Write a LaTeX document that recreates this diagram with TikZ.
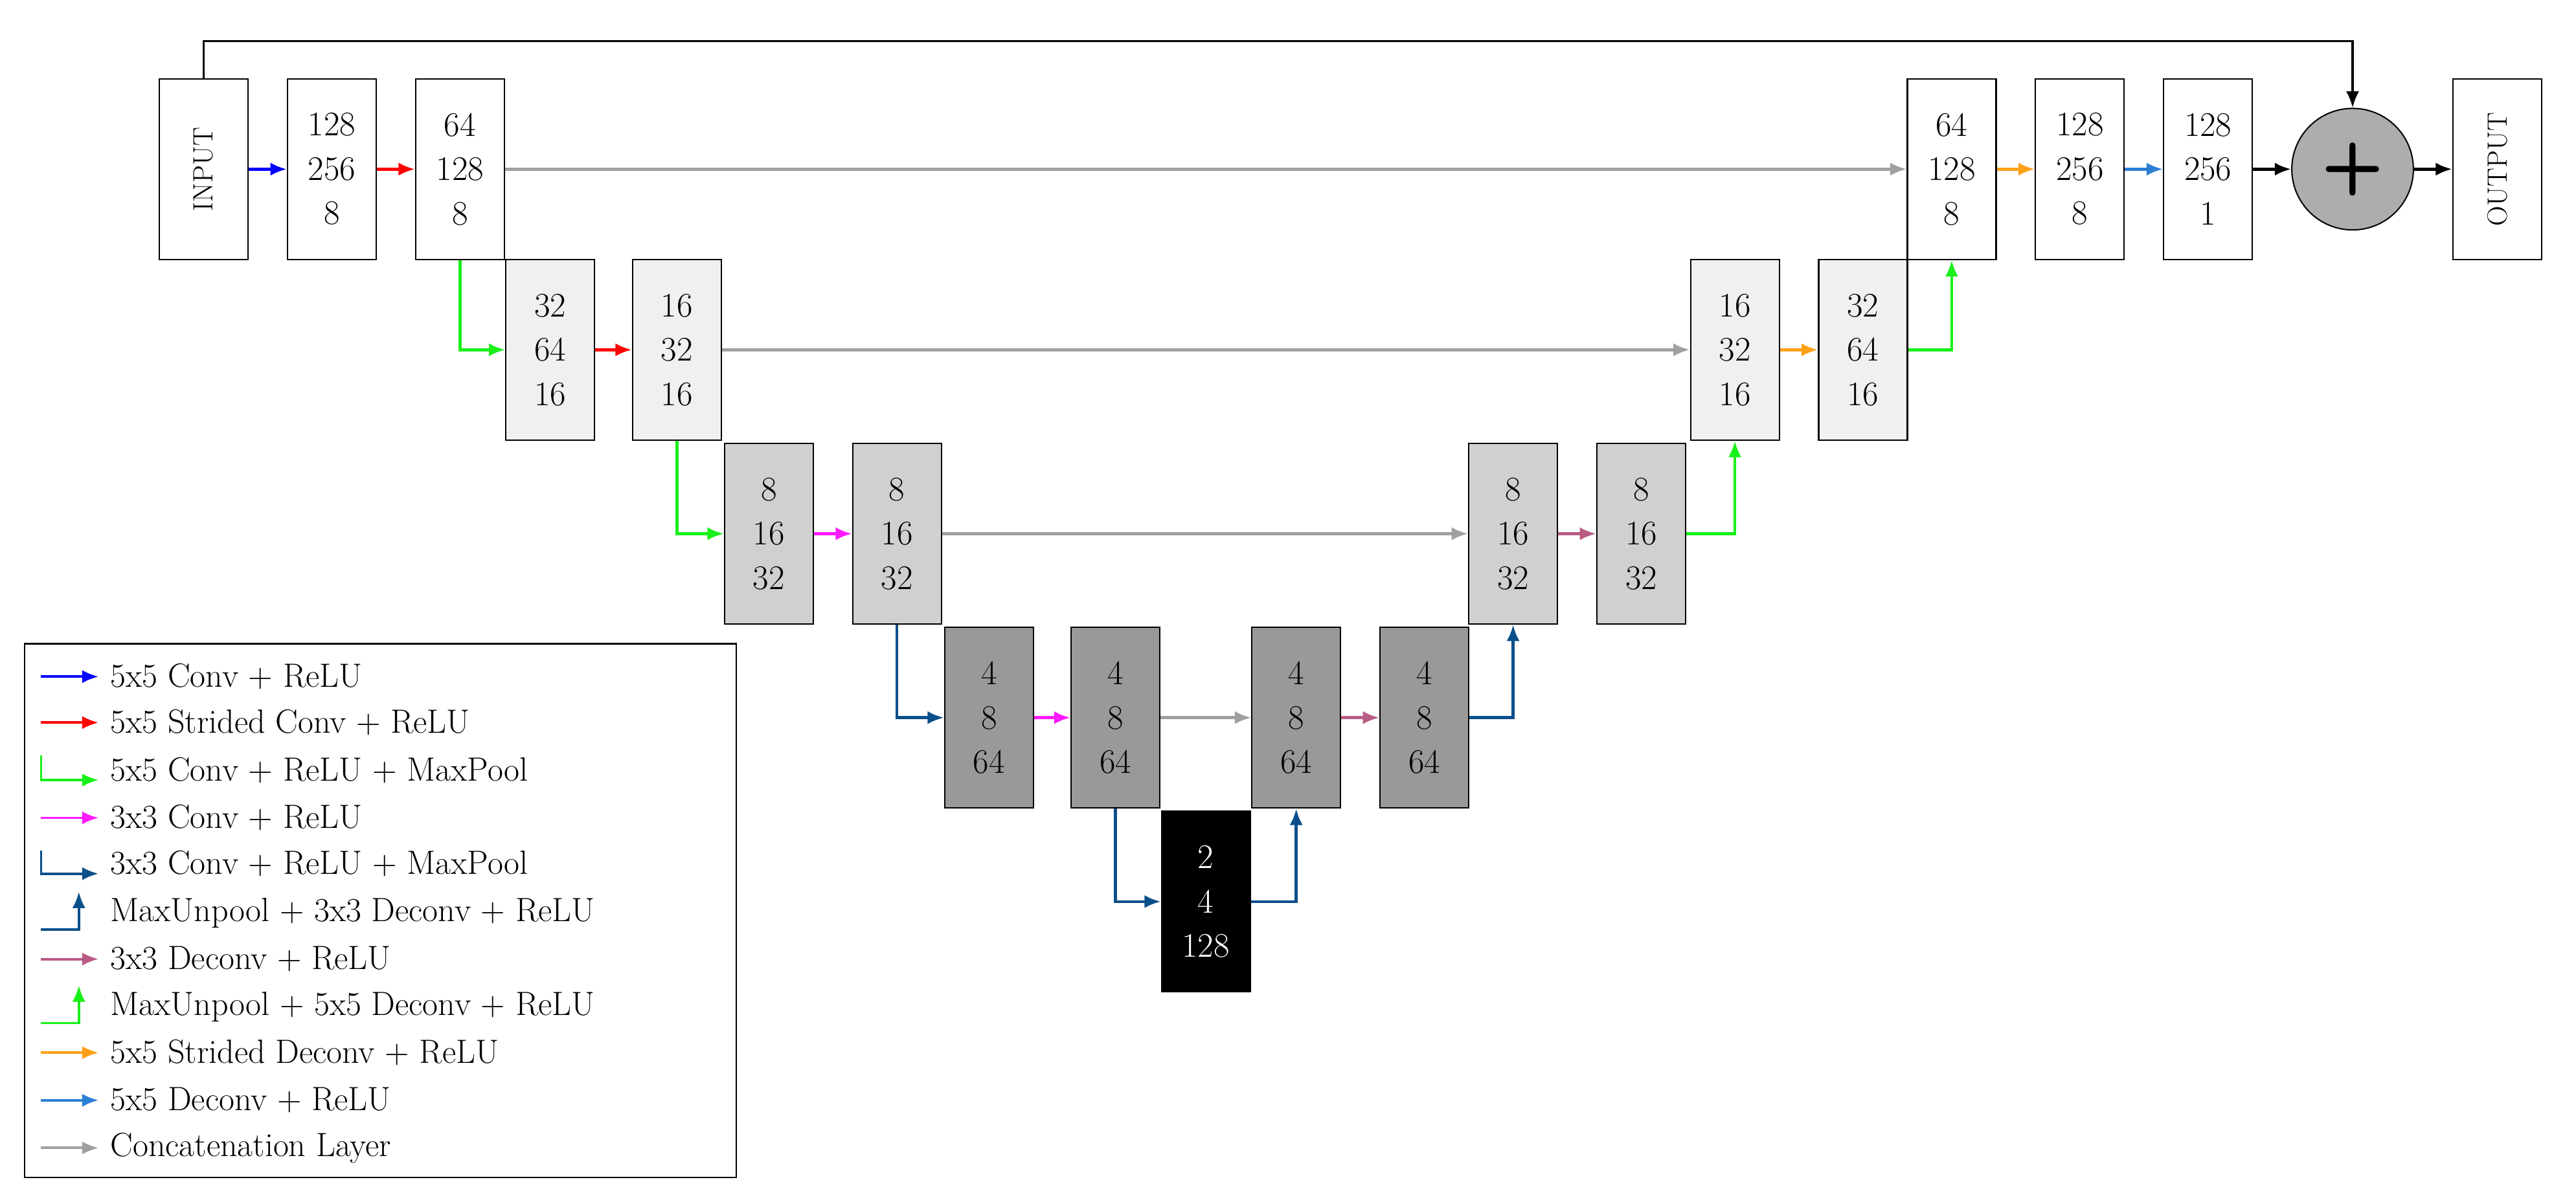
\documentclass[tikz,border=0pt]{standalone}
\usetikzlibrary{arrows.meta}
\definecolor{cA}{HTML}{F0F0F0}
\definecolor{cB}{HTML}{D0D0D0}
\definecolor{cC}{HTML}{999999}
\definecolor{gr}{HTML}{A0A0A0}
\definecolor{dblue}{HTML}{0B4F8A}
\definecolor{mauve}{HTML}{B85C85}
\definecolor{lblue}{HTML}{2A7FD4}
\definecolor{orng}{HTML}{FFA019}
\definecolor{grn}{HTML}{19F019}
\definecolor{mag}{HTML}{FF19FF}
\begin{document}
\begin{tikzpicture}[x=1pt,y=-1pt,
 box/.style={draw,line width=0.8pt,minimum width=54pt,minimum height=110pt,inner sep=0pt,align=center,font=\fontsize{21}{27}\selectfont},
 ar/.style={line width=1.8pt,-{Latex[length=10pt,width=8pt]}},
 lt/.style={anchor=west,font=\fontsize{20.5}{24}\selectfont,inner sep=0pt}]
\useasboundingbox (0,0) rectangle (1568,733);
% row 1
\node[box] (in) at (124,103) {\rotatebox{90}{\fontsize{17}{20}\selectfont INPUT}};
\node[box] (a1) at (202,103) {128\\256\\8};
\node[box] (a2) at (280,103) {64\\128\\8};
\node[box] (b1) at (335,213) [fill=cA] {32\\64\\16};
\node[box] (b2) at (412,213) [fill=cA] {16\\32\\16};
\node[box] (c1) at (468,325) [fill=cB] {8\\16\\32};
\node[box] (c2) at (546,325) [fill=cB] {8\\16\\32};
\node[box] (d1) at (602,437) [fill=cC] {4\\8\\64};
\node[box] (d2) at (679,437) [fill=cC] {4\\8\\64};
\node[box] (e) at (734,549) [fill=black,text=white] {2\\4\\128};
\node[box] (d3) at (789,437) [fill=cC] {4\\8\\64};
\node[box] (d4) at (867,437) [fill=cC] {4\\8\\64};
\node[box] (c3) at (921,325) [fill=cB] {8\\16\\32};
\node[box] (c4) at (999,325) [fill=cB] {8\\16\\32};
\node[box] (b3) at (1056,213) [fill=cA] {16\\32\\16};
\node[box] (b4) at (1134,213) [fill=cA] {32\\64\\16};
\node[box] (a3) at (1188,103) {64\\128\\8};
\node[box] (a4) at (1266,103) {128\\256\\8};
\node[box] (a5) at (1344,103) {128\\256\\1};
\node[circle,draw,line width=0.8pt,fill=cC!80!white,minimum size=74pt,inner sep=0pt,font=\fontsize{44}{44}\selectfont\sffamily\bfseries] (p) at (1432,103) {+};
\node[box] (out) at (1520,103) {\rotatebox{90}{\fontsize{17}{20}\selectfont OUTPUT}};
% connectors
\draw[ar,blue] (in) -- (a1);
\draw[ar,red] (a1) -- (a2);
\draw[ar,gr] (a2) -- (a3);
\draw[ar,grn] (a2.south) |- (b1.west);
\draw[ar,red] (b1) -- (b2);
\draw[ar,gr] (b2) -- (b3);
\draw[ar,grn] (b2.south) |- (c1.west);
\draw[ar,mag] (c1) -- (c2);
\draw[ar,gr] (c2) -- (c3);
\draw[ar,dblue] (c2.south) |- (d1.west);
\draw[ar,mag] (d1) -- (d2);
\draw[ar,gr] (d2) -- (d3);
\draw[ar,dblue] (d2.south) |- (e.west);
\draw[ar,dblue] (e.east) -| (d3.south);
\draw[ar,mauve] (d3) -- (d4);
\draw[ar,dblue] (d4.east) -| (c3.south);
\draw[ar,mauve] (c3) -- (c4);
\draw[ar,grn] (c4.east) -| (b3.south);
\draw[ar,orng] (b3) -- (b4);
\draw[ar,grn] (b4.east) -| (a3.south);
\draw[ar,orng] (a3) -- (a4);
\draw[ar,lblue] (a4) -- (a5);
\draw[ar,black] (a5) -- (p);
\draw[ar,black] (p) -- (out);
\coordinate (t1) at (124,25);
\coordinate (t2) at (1432,25);
\draw[ar,black,line width=1.5pt] (in.north) -- (t1) -- (t2) -- (p.north);
% legend
\node[draw,line width=0.8pt,minimum width=433pt,minimum height=325pt,inner sep=0pt] (leg) at (231.5,554.5) {};
\begin{scope}[ar/.append style={line width=1.5pt}]
\draw[ar,blue] (25,412) -- (60,412);
\draw[ar,red] (25,440) -- (60,440);
\draw[ar,grn] (25,460) -- (25,475) -- (60,475);
\draw[ar,mag] (25,498) -- (60,498);
\draw[ar,dblue] (25,518) -- (25,532) -- (60,532);
\draw[ar,dblue] (25,566) -- (48,566) -- (48,543);
\draw[ar,mauve] (25,584) -- (60,584);
\draw[ar,grn] (25,623) -- (48,623) -- (48,600);
\draw[ar,orng] (25,641) -- (60,641);
\draw[ar,lblue] (25,670) -- (60,670);
\draw[ar,gr] (25,699) -- (60,699);
\end{scope}
\node[lt] (l1) at (67,412) {5x5 Conv + ReLU};
\node[lt] (l2) at (67,440) {5x5 Strided Conv + ReLU};
\node[lt] (l3) at (67,469) {5x5 Conv + ReLU + MaxPool};
\node[lt] (l4) at (67,498) {3x3 Conv + ReLU};
\node[lt] (l5) at (67,526) {3x3 Conv + ReLU + MaxPool};
\node[lt] (l6) at (67,556) {MaxUnpool + 3x3 Deconv + ReLU};
\node[lt] (l7) at (67,584) {3x3 Deconv + ReLU};
\node[lt] (l8) at (67,613) {MaxUnpool + 5x5 Deconv + ReLU};
\node[lt] (l9) at (67,641) {5x5 Strided Deconv + ReLU};
\node[lt] (l10) at (67,670) {5x5 Deconv + ReLU};
\node[lt] (l11) at (67,699) {Concatenation Layer};
\end{tikzpicture}
\end{document}
